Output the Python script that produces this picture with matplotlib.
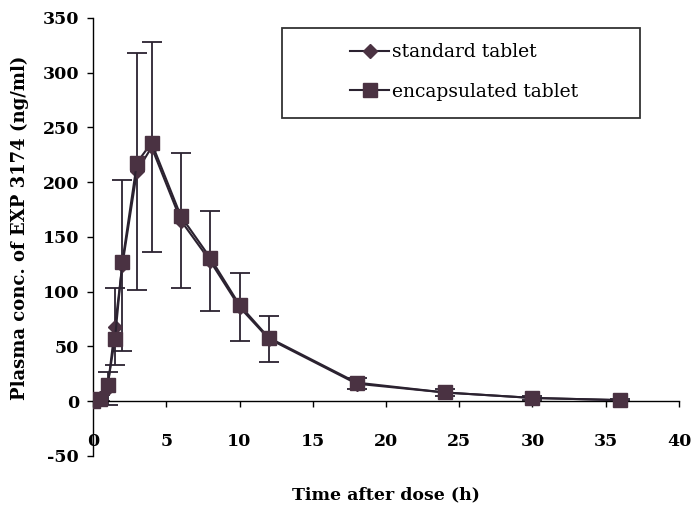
import matplotlib
matplotlib.use("Agg")
import matplotlib.pyplot as plt
from matplotlib.patches import Rectangle

time_h = [0, 0.5, 1, 1.5, 2, 3, 4, 6, 8, 10, 12, 18, 24, 30, 36]
standard = [0, 3, 12, 68, 124, 210, 232, 165, 128, 86, 57, 16, 8, 3, 1]
encapsulated = [0, 2, 15, 57, 127, 218, 236, 169, 131, 88, 58, 17, 8, 3, 1]
std_err = [0, 3, 15, 35, 78, 108, 96, 62, 46, 31, 21, 5, 3, 2, 1]

xticks = [0, 5, 10, 15, 20, 25, 30, 35, 40]
yticks = [-50, 0, 50, 100, 150, 200, 250, 300, 350]

plt.rcParams['font.family'] = ['DejaVu Serif', 'Liberation Serif']
plt.rcParams['font.weight'] = 'bold'
plt.rcParams['axes.unicode_minus'] = False

fig = plt.figure(figsize=(6.91, 5.08), dpi=100)
ax = fig.add_axes([0.1346, 0.1024, 0.848, 0.8622])

mcol = '#4a3242'
lcol = '#2b2230'

ax.errorbar(time_h, standard, yerr=std_err, fmt='none', ecolor=lcol,
            elinewidth=1.3, capsize=7, capthick=1.3, zorder=2)
ax.plot(time_h, standard, color=lcol, lw=1.5, marker='D', markersize=7,
        markerfacecolor=mcol, markeredgecolor=mcol, label='standard tablet', zorder=3)
ax.plot(time_h, encapsulated, color=lcol, lw=1.5, marker='s', markersize=10,
        markerfacecolor=mcol, markeredgecolor=mcol, label='encapsulated tablet', zorder=4)

ax.set_xlim(0, 40)
ax.set_ylim(-50, 350)
ax.set_xticks(xticks)
ax.set_yticks(yticks)
ax.spines['top'].set_visible(False)
ax.spines['right'].set_visible(False)
ax.spines['bottom'].set_position(('data', 0))
ax.spines['left'].set_linewidth(1.0)
ax.spines['bottom'].set_linewidth(1.0)
ax.tick_params(axis='both', direction='out', length=4, width=1.0, labelsize=12.5)
ax.tick_params(axis='x', pad=19)
ax.tick_params(axis='y', pad=6)

ax.set_xlabel('Time after dose (h)', fontsize=12.5, fontweight='bold', labelpad=0)
ax.xaxis.set_label_coords(0.5, -0.07)
ax.set_ylabel('Plasma conc. of EXP 3174 (ng/ml)', fontsize=13, fontweight='bold')
ax.yaxis.set_label_coords(-0.11, 0.52)

# legend frame
ax.add_patch(Rectangle((0.3225, 0.772), 0.6105, 0.205, transform=ax.transAxes,
                       fill=False, edgecolor='#333333', lw=1.3, zorder=5, clip_on=False))
leg = ax.legend(loc='center left', bbox_to_anchor=(0.4386, 0.877), fontsize=13.5,
                frameon=False, borderpad=0, labelspacing=1.15, handlelength=2.1,
                handletextpad=0.15, borderaxespad=0)
for t in leg.get_texts():
    t.set_fontweight('normal')

fig.savefig('out.png', dpi=100)
